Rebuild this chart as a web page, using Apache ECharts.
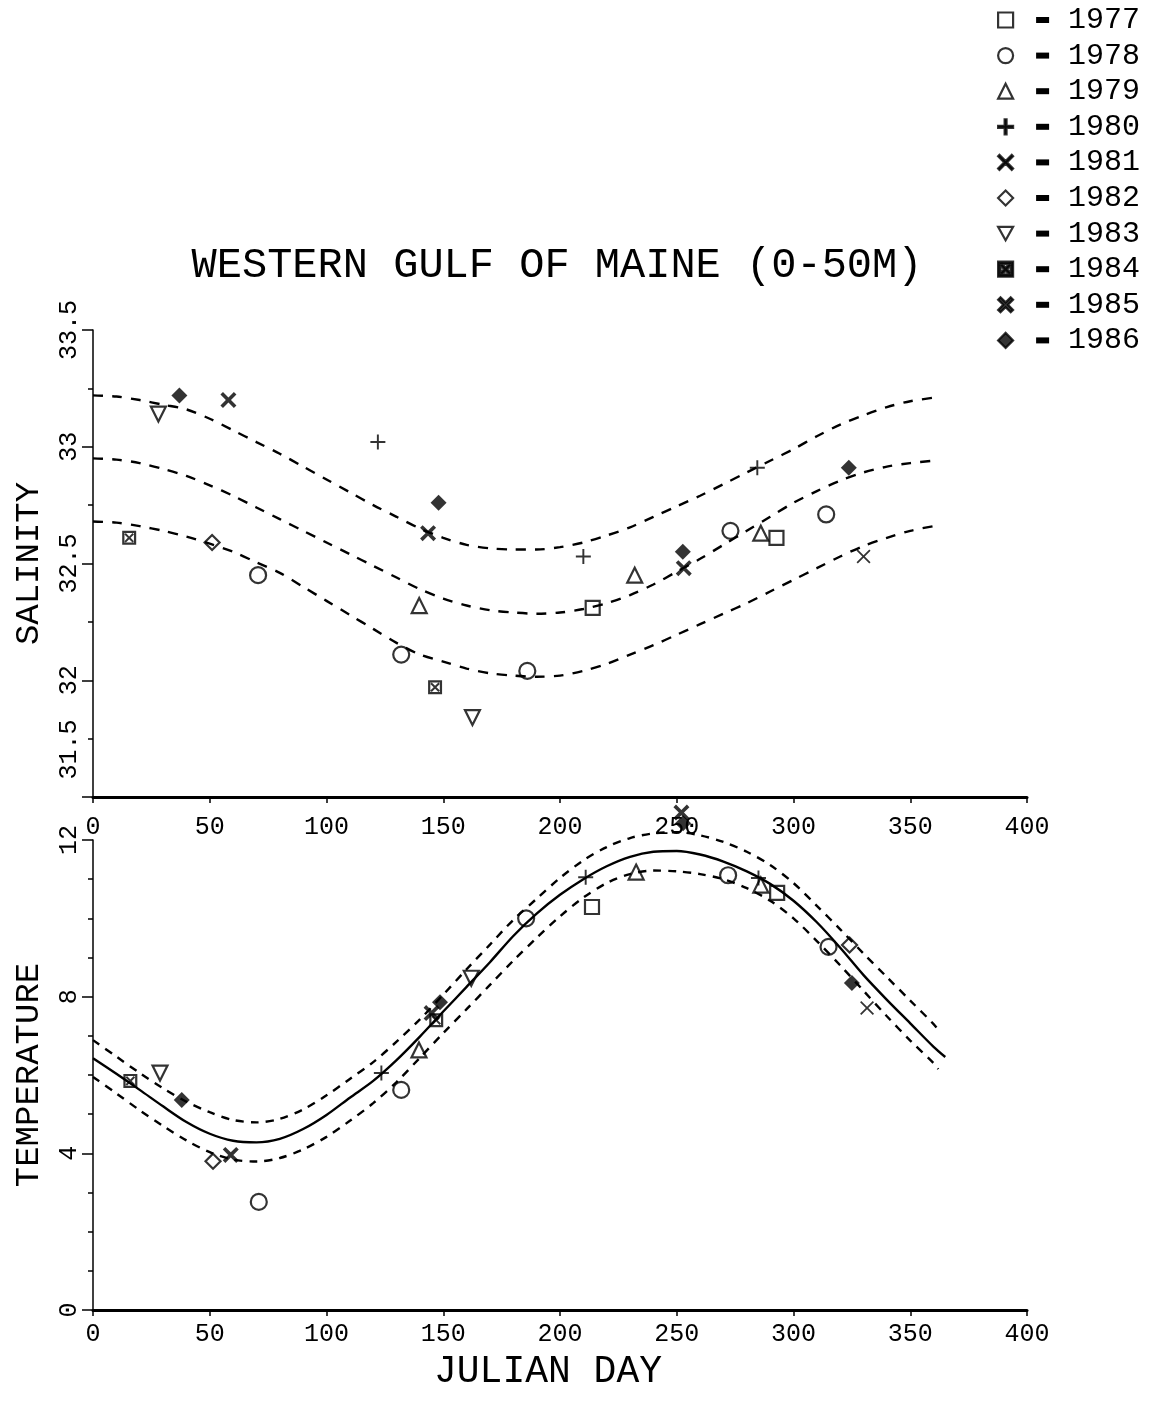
<!DOCTYPE html>
<html><head><meta charset="utf-8">
<script src="https://cdn.jsdelivr.net/npm/echarts/dist/echarts.min.js"></script>
<style>html,body{margin:0;padding:0;background:#fff}#c{width:1150px;height:1401px}</style>
</head><body><div id="c"></div>
<script>
// ---- data ----
const years = ['1977','1978','1979','1980','1981','1982','1983','1984','1985','1986'];
const xTicks = [0,50,100,150,200,250,300,350,400];

// salinity observations [julian day, salinity]
const sal1977 = [[214,32.31],[292.7,32.61]];
const sal1978 = [[70.7,32.45],[132,32.11],[186,32.04],[273,32.64],[314,32.71]];
const sal1979 = [[139.7,32.32],[232,32.45],[286,32.63]];
const sal1980 = [[122,33.02],[210,32.53],[284.5,32.91]];
const sal1981 = [[330,32.53]];
const sal1982 = [[51,32.59]];
const sal1983 = [[28,33.14],[162.5,31.84]];
const sal1984 = [[15.5,32.61],[146.5,31.97]];
const sal1985 = [[58,33.20],[143.5,32.63],[253,32.48]];
const sal1986 = [[37,33.22],[148,32.76],[252.6,32.55],[323.7,32.91]];

// temperature observations [julian day, temperature]
const tmp1977 = [[213.7,10.29],[293,10.65]];
const tmp1978 = [[71,2.76],[132,5.62],[185.5,10.0],[272,11.1],[315,9.27]];
const tmp1979 = [[139.6,6.64],[232.6,11.18],[286,10.85]];
const tmp1980 = [[123.5,6.05],[211,11.05],[285,11.03]];
const tmp1981 = [[331.5,7.71]];
const tmp1982 = [[51.4,3.80],[324,9.32]];
const tmp1983 = [[28.7,6.05],[162,8.47]];
const tmp1984 = [[16,5.85],[147,7.40]];
const tmp1985 = [[59,3.96],[145,7.58],[252,12.7]];
const tmp1986 = [[38,5.36],[148.6,7.86],[252.7,12.43],[325,8.35]];

// fitted curves, every 10 days
const curveDays = [0,10,20,30,40,50,60,70,80,90,100,110,120,130,140,150,160,170,180,190,200,210,220,230,240,250,260,270,280,290,300,310,320,330,340,350,360];
const salUpper = [33.22,33.215,33.20,33.18,33.16,33.12,33.07,33.02,32.97,32.915,32.86,32.805,32.75,32.70,32.65,32.61,32.58,32.565,32.56,32.56,32.57,32.59,32.62,32.655,32.70,32.745,32.79,32.84,32.89,32.94,32.99,33.045,33.095,33.135,33.17,33.195,33.21];
const salMid   = [32.95,32.945,32.93,32.905,32.875,32.835,32.79,32.74,32.69,32.64,32.59,32.54,32.49,32.44,32.39,32.35,32.32,32.30,32.29,32.285,32.29,32.305,32.33,32.365,32.41,32.465,32.52,32.58,32.64,32.70,32.76,32.81,32.855,32.89,32.915,32.93,32.94];
const salLower = [32.68,32.675,32.66,32.64,32.615,32.585,32.55,32.505,32.46,32.40,32.34,32.28,32.22,32.16,32.11,32.08,32.05,32.03,32.02,32.015,32.02,32.04,32.07,32.11,32.15,32.195,32.24,32.285,32.33,32.38,32.43,32.48,32.53,32.575,32.61,32.64,32.66];
const tmpMid   = [6.43,6.03,5.62,5.20,4.80,4.50,4.32,4.28,4.37,4.62,4.98,5.42,5.85,6.38,6.98,7.62,8.25,8.88,9.55,10.12,10.6,11.0,11.33,11.57,11.70,11.72,11.63,11.45,11.2,10.88,10.45,9.9,9.25,8.55,7.92,7.32,6.72];
const tmpUpper = [6.89,6.47,6.05,5.66,5.32,5.05,4.85,4.79,4.88,5.12,5.48,5.9,6.33,6.85,7.42,8.05,8.7,9.33,9.96,10.5,11.03,11.48,11.82,12.05,12.17,12.2,12.12,11.95,11.7,11.36,10.9,10.32,9.72,9.1,8.5,7.9,7.3];
const tmpLower = [5.95,5.53,5.1,4.7,4.33,4.03,3.84,3.79,3.88,4.1,4.42,4.83,5.28,5.82,6.44,7.07,7.68,8.3,8.92,9.5,10.05,10.53,10.9,11.13,11.22,11.2,11.13,11.0,10.77,10.45,10.0,9.42,8.8,8.15,7.5,6.88,6.3];
const tmpMidEnd = [365,6.46];
const tmpUpperEnd = [362,7.15];
const tmpLowerEnd = [362,6.15];

const salByYear = [sal1977,sal1978,sal1979,sal1980,sal1981,sal1982,sal1983,sal1984,sal1985,sal1986];
const tmpByYear = [tmp1977,tmp1978,tmp1979,tmp1980,tmp1981,tmp1982,tmp1983,tmp1984,tmp1985,tmp1986];

// ---- styles ----
const FONT = 'Liberation Mono';
const P_PLUS = 'path://M8.7,0 H11.3 V8.7 H20 V11.3 H11.3 V20 H8.7 V11.3 H0 V8.7 H8.7 Z';
const P_X = 'path://M0,1.8 L1.8,0 L10,8.2 L18.2,0 L20,1.8 L11.8,10 L20,18.2 L18.2,20 L10,11.8 L1.8,20 L0,18.2 L8.2,10 Z';
const P_XB = 'path://M0,3.2 L3.2,0 L10,6.8 L16.8,0 L20,3.2 L13.2,10 L20,16.8 L16.8,20 L10,13.2 L3.2,20 L0,16.8 L6.8,10 Z';
const P_BOXX = 'path://M0,0 H20 V20 H0 Z M3.2,3.2 V16.8 H16.8 V3.2 Z M3.2,5.2 L5.2,3.2 L10,8 L14.8,3.2 L16.8,5.2 L12,10 L16.8,14.8 L14.8,16.8 L10,12 L5.2,16.8 L3.2,14.8 L8,10 Z';
const P_TRIDOWN = 'path://M0,0 L20,0 L10,18 Z';
const hollow = {color:'rgba(255,255,255,0)', borderColor:'#000', borderWidth:2.2};
const solid = {color:'#000', borderColor:'#000', borderWidth:0};
const symStyle = [
  {symbol:'rect', size:14, item:hollow},
  {symbol:'circle', size:16, item:hollow},
  {symbol:'triangle', size:15, item:hollow},
  {symbol:P_PLUS, size:15, item:solid},
  {symbol:P_X, size:14, item:solid},
  {symbol:'diamond', size:15, item:hollow},
  {symbol:P_TRIDOWN, size:15, item:hollow},
  {symbol:P_BOXX, size:14, item:solid},
  {symbol:P_XB, size:16, item:solid},
  {symbol:'diamond', size:16, item:solid}
];

const series = [];
years.forEach((y,i)=>{
  const s = symStyle[i];
  [[salByYear[i],0],[tmpByYear[i],1]].forEach(([d,ax])=>{
    series.push({type:'scatter', name:y, xAxisIndex:ax, yAxisIndex:ax, data:d,
      symbol:s.symbol, symbolSize:s.size, itemStyle:s.item, clip:false, z:5,
      emphasis:{disabled:true}});
  });
});
function pairs(vals, end){
  const out = curveDays.map((d,i)=>[d, vals[i]]);
  if (end) { if (end[0] < 365 && out[out.length-1][0] > end[0]) out.pop(); out.push(end); }
  return out;
}
function curve(d, ax, dashed, dash){
  return {type:'line', data:d, xAxisIndex:ax, yAxisIndex:ax, smooth:0.3, showSymbol:false,
    symbol:'none', silent:true, z:3, clip:false,
    lineStyle:{color:'#000', width:2.4, type: dashed ? dash : 'solid'}};
}
series.push(curve(pairs(salUpper),0,true,[10,9]));
series.push(curve(pairs(salMid),0,true,[10,9]));
series.push(curve(pairs(salLower),0,true,[10,9]));
series.push(curve(pairs(tmpUpper,tmpUpperEnd),1,true,[8,7]));
series.push(curve(pairs(tmpMid,tmpMidEnd),1,false));
series.push(curve(pairs(tmpLower,tmpLowerEnd),1,true,[8,7]));

const xAxisBase = (gi, margin) => ({
  type:'value', gridIndex:gi, min:0, max:400, interval:50,
  axisLine:{show:true, lineStyle:{color:'#000', width:3}},
  axisTick:{show:true, length:6, lineStyle:{color:'#000', width:1.5}},
  splitLine:{show:false},
  axisLabel:{color:'#000', fontFamily:FONT, fontSize:25, margin:margin,
    formatter:v=> xTicks.includes(v) ? String(v) : ''}
});

const option = {
  backgroundColor:'#fff',
  animation:false,
  title:{text:'WESTERN GULF OF MAINE (0-50M)', left:552, top:240, textAlign:'center',
    textStyle:{fontFamily:FONT, fontSize:42, fontWeight:'normal', color:'#000'}},
  legend:{orient:'vertical', left:992, top:0, itemWidth:15, itemHeight:15, itemGap:5.6,
    selectedMode:false, data:years,
    itemStyle:{borderWidth:2.2},
    formatter: n => '{g|}{b|}{g2|}{y|' + n + '}',
    textStyle:{fontFamily:FONT, fontSize:30, lineHeight:30, color:'#000',
      rich:{g:{width:18}, b:{width:13, height:6, backgroundColor:'#000'}, g2:{width:19},
        y:{fontFamily:FONT, fontSize:30, color:'#000'}}}},
  grid:[
    {left:93, width:934, top:330, height:467, outerBoundsMode:'none', containLabel:false},
    {left:93, width:934, top:840, height:470, outerBoundsMode:'none', containLabel:false}
  ],
  xAxis:[
    xAxisBase(0, 18),
    Object.assign(xAxisBase(1, 12), {name:'JULIAN DAY', nameLocation:'middle', nameGap:43,
      nameTextStyle:{fontFamily:FONT, fontSize:38, color:'#000', padding:[0,24,0,0]}})
  ],
  yAxis:[
    {type:'value', gridIndex:0, min:31.5, max:33.5, interval:0.5,
      name:'SALINITY', nameLocation:'middle', nameGap:47, nameRotate:90,
      nameTextStyle:{fontFamily:FONT, fontSize:34, color:'#000'},
      axisLine:{show:true, lineStyle:{color:'#000', width:1.5}},
      axisTick:{show:true, length:11, lineStyle:{color:'#000', width:1.5}},
      minorTick:{show:true, splitNumber:2, length:5, lineStyle:{color:'#000', width:1.5}},
      splitLine:{show:false}, minorSplitLine:{show:false},
      axisLabel:{color:'#000', fontFamily:FONT, fontSize:25, rotate:90, margin:11,
        formatter:v=> v === 31.5 ? '{s|31.5}' : String(v),
        rich:{s:{fontFamily:FONT, fontSize:25, color:'#000', padding:[0,0,0,95]}}}},
    {type:'value', gridIndex:1, min:0, max:12, interval:4,
      name:'TEMPERATURE', nameLocation:'middle', nameGap:47, nameRotate:90,
      nameTextStyle:{fontFamily:FONT, fontSize:34, color:'#000'},
      axisLine:{show:true, lineStyle:{color:'#000', width:1.5}},
      axisTick:{show:true, length:11, lineStyle:{color:'#000', width:1.5}},
      minorTick:{show:true, splitNumber:4, length:5, lineStyle:{color:'#000', width:1.5}},
      splitLine:{show:false}, minorSplitLine:{show:false},
      axisLabel:{color:'#000', fontFamily:FONT, fontSize:25, rotate:90, margin:11}}
  ],
  series: series
};
const chart = echarts.init(document.getElementById('c'), null, {renderer:'canvas'});
chart.setOption(option);
</script>
</body></html>
